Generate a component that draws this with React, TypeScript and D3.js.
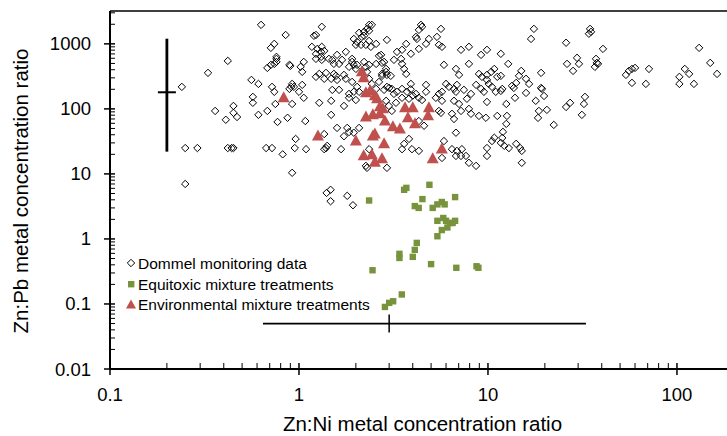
import React from "react";
import * as d3 from "d3";

const dommel: [number, number][] = [
  [0.63,1960],[0.85,1370],[0.74,1000],[0.71,868],[0.76,588],[0.68,427],[0.74,492],[0.9,459],[0.42,547],[0.33,358],[0.24,218],[0.56,279],[0.61,242],[0.57,153],[0.57,124],[0.68,93],[0.61,81],[0.77,63],[0.87,73],[0.75,119],[0.92,119],[0.91,218],[0.92,242],[0.36,93],[0.41,68],[0.45,111],[0.45,87],[0.47,75],
  [0.25,25],[0.29,25],[0.42,25],[0.44,25],[0.45,25],[0.67,25],[0.72,25],[0.95,25],[0.82,20],[0.92,10.4],[0.25,7],[0.96,34.5],
  [1.4,5.1],[1.47,5.7],[1.47,3.8],[1.8,4.6],[1.93,3.3],
  [1.32,1830],[1.23,1370],[1.2,1330],[2.35,1960],[2.29,1700],[2.43,1960],[2.21,1530],[2.15,1280],[1.95,1190],[2.03,1070],[2.13,965],[2.0,965],[2.92,1150],[2.35,1110],[2.26,965],[2.4,900],[2.56,1000],[1.17,900],[1.25,837],[1.32,900],[1.31,753],[1.23,702],[0.76,631],[0.71,475],[0.76,528],[0.89,475],[1.06,528],[1.02,443],[1.04,371],[1.23,588],[1.31,631],[1.32,567],[1.59,677],[1.5,567],[1.63,492],[1.69,567],[1.77,753],[1.91,588],[1.91,528],[1.95,475],[2.03,475],[1.84,443],[2.0,412],[2.21,528],[2.26,443],[2.35,475],[2.29,371],[2.56,492],[2.72,677],[2.82,528],[2.89,412],[2.75,345],[2.92,333],[3.18,567],[3.3,753],[1.23,311],[1.28,345],[1.36,290],[1.53,345],[1.59,279],[1.48,290],[1.73,333],[1.77,290],[2.35,290],[2.43,242],[2.65,260],[2.56,203],[1.91,260],[2.03,218],[1.95,183],[0.94,218],[0.89,203],[1.04,234],[1.0,183],[1.5,196],[1.63,196],[1.84,170],[2.08,183],[2.82,196],[2.92,218],[3.1,203],[3.3,183],[3.18,170],[0.72,218],[0.74,183],
  [1.44,588],[1.53,492],[1.39,358],[1.57,322],[2.65,653],[2.75,510],[2.89,371],[3.06,322],[2.75,322],[2.08,1480],[2.21,1330],[2.35,1590],[1.36,780],[3.0,210],[3.9,200],[4.0,160],
  [4.42,1960],[4.48,1830],[4.31,1640],[4.21,1190],[4.16,1280],[5.64,1700],[3.69,1000],[3.51,809],[3.91,702],[4.31,837],[4.7,1000],[4.87,1190],[5.37,1280],[5.5,965],[5.71,900],[3.47,588],[3.51,492],[3.6,412],[3.69,345],[7.2,809],[7.93,900],[9.19,677],[9.88,809],[5.85,475],[6.77,412],[7.03,333],[7.93,492],[8.96,345],[9.29,311],[9.88,333],[10.4,371],[9.88,279],[10.8,412],[11.2,311],[3.91,242],[3.51,203],[3.73,183],[4.16,170],[4.7,234],[4.7,183],[6.0,242],[6.22,218],[6.61,203],[6.85,234],[6.77,183],[5.71,183],[5.5,170],[7.46,196],[8.13,170],[8.65,234],[9.19,203],[9.52,183],[10.1,242],[10.5,218],[11,183],
  [1.06,148],[1.28,124],[1.48,133],[1.84,148],[2.0,137],[1.73,111],[1.08,65],[1.48,81],[1.59,51],[1.8,51],[1.84,44],[1.73,38],[1.95,43],[2.08,51],[1.36,41],[1.09,24],[1.36,24],[1.39,25],[1.41,27],[1.67,24],[2.35,24],[2.29,12.4],[2.26,13.3],[2.92,12.4],[2.89,133],[2.99,111],[3.1,93],[3.26,124],
  [3.51,148],[3.82,143],[4.31,148],[4.48,137],[5.3,148],[5.71,133],[6.61,133],[7.03,119],[7.74,143],[9.88,128],[5.5,93],[5.64,87],[6.45,84],[6.61,70],[7.2,93],[7.93,100],[8.13,84],[8.96,78],[9.75,73],[11.2,78],[4.59,55],[4.31,65],[10.8,36],[10.5,32],[6.77,43],[3.82,34.5],[3.6,29],[3.51,24],[3.96,24],[4.31,22.6],[5.85,32],[6.45,24],[6.85,22.6],[7.28,24],[7.2,18.9],[7.65,18.9],[7.93,14.8],[8.65,13.3],[6.77,18.9],[9.88,25],[9.88,18.9],[5.71,17.6],
  [17.5,1700],[16.9,1190],[25.9,1040],[34.7,1700],[34.2,1430],[35.1,1530],[40.6,837],[26.2,492],[29.6,609],[30.3,492],[28.2,384],[37.3,588],[37.7,510],[36.8,443],[38.2,492],[11.7,702],[12.8,492],[11.7,322],[15,384],[14.6,322],[15.9,290],[16.5,242],[14.1,251],[13.4,226],[13.7,210],[11.9,203],[11.7,189],[15.9,176],[19.1,358],[19.1,210],[19.3,203],[19.8,158],[13.9,148],[12.5,119],[17.9,133],[18.6,93],[20.5,96.5],[18.4,72.7],[22.3,56.7],[25.9,107],[27.2,124],[32.6,153],[32.2,119],[31.4,80.9],[12.6,78],[12.5,58.8],[12,44.3],[11.9,35.8],[11.7,30],[12.2,27],[12.9,25],[14.1,29],[14.8,25],[15.1,22.6],[15.1,14.8],
  [53.7,333],[55.7,384],[57.8,412],[60,427],[71.1,412],[57.8,251],[68.5,242],[103,311],[103,242],[110,412],[116,345],[123,242],[131,868],[150,510],[163,345]
];

const equitoxic: [number, number][] = [
  [3.7,6.1],[3.6,5.7],[4.9,6.8],[2.35,3.9],[4.5,4.1],[4.1,3.2],[4.3,3.0],[5.1,3.0],[5.4,3.4],[5.7,3.7],[5.9,3.4],[6.7,4.4],[5.4,1.9],[5.8,2.1],[6.0,1.9],[6.3,1.76],[6.5,1.76],[6.7,1.9],[6.1,1.5],[5.7,1.37],[5.4,1.1],[4.2,0.87],[4.1,0.68],[4.0,0.53],[3.4,0.59],[3.4,0.51],[5.0,0.41],[6.8,0.36],[8.7,0.38],[8.9,0.36],[2.45,0.33],[3.5,0.14],[3.15,0.11],[3.0,0.104],[2.85,0.09]
];

const environmental: [number, number][] = [
  [0.83,148],[2.15,370],[2.2,300],[2.26,176],[2.38,190],[2.52,158],[2.59,143],[2.68,107],[2.78,100],[3.64,104],[4.0,104],[4.87,104],[2.26,75],[2.46,81],[2.68,84],[2.85,65],[3.77,73],[4.11,59],[4.82,78],[3.14,53],[3.42,49],[2.52,41],[2.46,38],[1.26,38],[2.0,32],[2.82,29],[5.7,24],[2.2,19],[2.43,19.6],[2.75,17],[2.52,15],[5.1,17]
];

// error bars: center with low/high range
const vErr = { x: 0.2, y: 180, lo: 22, hi: 1200 };
const hErr = { y: 0.05, x: 3.0, lo: 0.645, hi: 33 };

const xTicks = [0.1, 1, 10, 100];
const xTickLabels = ["0.1", "1", "10", "100"];
const yTicks = [0.01, 0.1, 1, 10, 100, 1000];
const yTickLabels = ["0.01", "0.1", "1", "10", "100", "1000"];

const legendLabels = ["Dommel monitoring data", "Equitoxic mixture treatments", "Environmental mixture treatments"];
const xTitle = "Zn:Ni metal concentration ratio";
const yTitle = "Zn:Pb metal concentration ratio";

const W = 727, H = 436;
const L = 110, R = 727, T = 11, B = 369;
const FONT = "'Liberation Sans', Arial, sans-serif";
const RED = "#C0504D";
const GREEN = "#77933C";

export default function App() {
  const x = d3.scaleLog().domain([0.1, 184]).range([L, R]);
  const y = d3.scaleLog().domain([0.01, 3200]).range([B, T]);

  const xMinor: number[] = [];
  for (let d = 0.1; d < 200; d *= 10) for (let m = 2; m <= 9; m++) { const v = d * m; if (x(v) < R) xMinor.push(v); }
  const yMinor: number[] = [];
  for (let d = 0.01; d < 5000; d *= 10) for (let m = 2; m <= 9; m++) { const v = d * m; if (y(v) > T + 1) yMinor.push(v); }

  const diamond = (cx: number, cy: number, r: number) => `M${cx},${cy - r}L${cx + r},${cy}L${cx},${cy + r}L${cx - r},${cy}Z`;
  const tri = (cx: number, cy: number, w: number, h: number) => `M${cx},${cy - h * 0.6}L${cx + w / 2},${cy + h * 0.4}L${cx - w / 2},${cy + h * 0.4}Z`;

  return (
    <svg width={W} height={H} style={{ position: "absolute", left: 0, top: 0, background: "#fff" }} fontFamily={FONT}>
      <rect x={0} y={0} width={W} height={H} fill="#fff" />
      <line x1={L} x2={R} y1={T} y2={T} stroke="#000" strokeWidth={1.5} />
      <line x1={L} x2={L} y1={T} y2={B} stroke="#000" strokeWidth={2} />
      <line x1={L} x2={R} y1={B} y2={B} stroke="#000" strokeWidth={2} />
      {yTicks.map((t, i) => (
        <g key={"yt" + i}>
          <line x1={L - 6} x2={L + 5} y1={y(t)} y2={y(t)} stroke="#000" strokeWidth={1.5} />
          <text x={91} y={y(t) + 6.5} textAnchor="end" fontSize={18.5} fill="#000">{yTickLabels[i]}</text>
        </g>
      ))}
      {yMinor.map((t, i) => (
        <line key={"ym" + i} x1={L} x2={L + 5} y1={y(t)} y2={y(t)} stroke="#000" strokeWidth={1} />
      ))}
      {xTicks.map((t, i) => (
        <g key={"xt" + i}>
          <line x1={x(t)} x2={x(t)} y1={B - 6} y2={B + 6} stroke="#000" strokeWidth={1.5} />
          <text x={x(t)} y={401} textAnchor="middle" fontSize={18.5} fill="#000">{xTickLabels[i]}</text>
        </g>
      ))}
      {xMinor.map((t, i) => (
        <line key={"xm" + i} x1={x(t)} x2={x(t)} y1={B - 6} y2={B} stroke="#000" strokeWidth={1} />
      ))}
      <text x={(L + R) / 2 + 4} y={431} textAnchor="middle" fontSize={20.5} fill="#000">{xTitle}</text>
      <text transform={`translate(28,${(T + B) / 2 + 1}) rotate(-90)`} textAnchor="middle" fontSize={20.5} fill="#000">{yTitle}</text>

      {dommel.map((d, i) => (
        <path key={"d" + i} d={diamond(x(d[0]), y(d[1]), 3.7)} fill="none" stroke="#000" strokeWidth={1} />
      ))}
      {equitoxic.map((d, i) => (
        <rect key={"e" + i} x={x(d[0]) - 3.2} y={y(d[1]) - 3.2} width={6.4} height={6.4} fill={GREEN} />
      ))}
      {environmental.map((d, i) => (
        <path key={"v" + i} d={tri(x(d[0]), y(d[1]), 12, 11)} fill={RED} />
      ))}

      <line x1={x(vErr.x)} x2={x(vErr.x)} y1={y(vErr.lo)} y2={y(vErr.hi)} stroke="#000" strokeWidth={2.8} />
      <line x1={x(vErr.x) - 9} x2={x(vErr.x) + 9} y1={y(vErr.y)} y2={y(vErr.y)} stroke="#000" strokeWidth={2} />
      <line x1={x(hErr.lo)} x2={x(hErr.hi)} y1={y(hErr.y)} y2={y(hErr.y)} stroke="#000" strokeWidth={1.8} />
      <line x1={x(hErr.x)} x2={x(hErr.x)} y1={y(hErr.y) - 9} y2={y(hErr.y) + 9} stroke="#000" strokeWidth={1.5} />

      <path d={diamond(131, 263, 3.7)} fill="#fff" stroke="#000" strokeWidth={1} />
      <text x={138} y={268.5} fontSize={15.5} fill="#000">{legendLabels[0]}</text>
      <rect x={128} y={281} width={6.4} height={6.4} fill={GREEN} />
      <text x={138} y={289.5} fontSize={15.5} fill="#000">{legendLabels[1]}</text>
      <path d={tri(131, 305, 10, 9)} fill={RED} />
      <text x={138} y={309.5} fontSize={15.5} fill="#000">{legendLabels[2]}</text>
    </svg>
  );
}
